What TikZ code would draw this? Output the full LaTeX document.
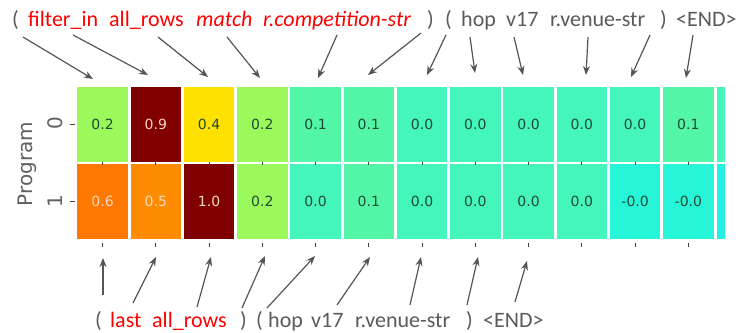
\documentclass[tikz,border=0pt]{standalone}
\usepackage{fontspec}
\setmainfont{Carlito}
\newfontfamily\dejavu{DejaVu Sans}
\usetikzlibrary{arrows.meta}
\definecolor{tokgray}{HTML}{5A5A5A}
\definecolor{kwred}{HTML}{FF0000}
\definecolor{arrgray}{HTML}{555555}
\definecolor{axgray}{HTML}{606060}
\definecolor{numdark}{HTML}{1F4A35}
\definecolor{numlight}{HTML}{F5D8C0}
\definecolor{cA}{HTML}{9BF95B}
\definecolor{cB}{HTML}{800000}
\definecolor{cC}{HTML}{FFE100}
\definecolor{cD}{HTML}{52F6A6}
\definecolor{cE}{HTML}{44F5BC}
\definecolor{cF}{HTML}{27F5D8}
\definecolor{cG}{HTML}{FF7800}
\definecolor{cH}{HTML}{FF8C00}
\definecolor{cI}{HTML}{23EFE2}
\begin{document}
\begin{tikzpicture}[x=1pt,y=-1pt,
  tok/.style={anchor=base west, inner sep=0pt, text=tokgray, font=\fontsize{22}{24}\selectfont},
  kw/.style={tok, text=kwred},
  kwi/.style={tok, text=kwred, font=\fontsize{22}{24}\selectfont\itshape},
  cell/.style={draw=white, line width=2.6pt, minimum width=53.25pt, minimum height=77.5pt, inner sep=0pt, font=\dejavu\fontsize{14}{14}\selectfont, text=numdark},
  dk/.style={text=numlight},
  arr/.style={draw=arrgray, line width=1.2pt, -{Stealth[length=9pt,width=7pt]}},
  tick/.style={draw=black!75, line width=0.8pt},
  axlab/.style={text=axgray, inner sep=0pt, font=\dejavu\fontsize{20}{20}\selectfont, rotate=90}
]
\useasboundingbox[fill=white] (0,0) rectangle (738,332);

% ---- heatmap cells ----
\foreach \i/\c/\v/\s in {0/cA/0.2/, 1/cB/0.9/dk, 2/cC/0.4/, 3/cA/0.2/, 4/cD/0.1/, 5/cD/0.1/, 6/cE/0.0/, 7/cE/0.0/, 8/cE/0.0/, 9/cE/0.0/, 10/cE/0.0/, 11/cD/0.1/}
  \node[cell, fill=\c, \s] (r0c\i) at ({102.6+53.25*\i},124.25) {\v};
\foreach \i/\c/\v/\s in {0/cG/0.6/dk, 1/cH/0.5/dk, 2/cB/1.0/dk, 3/cA/0.2/, 4/cE/0.0/, 5/cD/0.1/, 6/cE/0.0/, 7/cE/0.0/, 8/cE/0.0/, 9/cE/0.0/, 10/cF/-0.0/, 11/cF/-0.0/}
  \node[cell, fill=\c, \s] (r1c\i) at ({102.6+53.25*\i},201.75) {\v};
% partial last column
\fill[cE] (716.6,86.8) rectangle (725,161.7);
\fill[cI] (716.6,164.3) rectangle (725,239.2);

% ---- ticks ----
\foreach \i in {0,...,11} {
  \draw[tick] ({102.6+53.25*\i},242.5) -- ++(0,4.5);
  \draw[tick] ({102.6+53.25*\i},161.5) -- ++(0,3);
}
\draw[tick] (70,124.25) -- (74.5,124.25);
\draw[tick] (70,201.75) -- (74.5,201.75);

% ---- axis labels ----
\node[axlab] (y0) at (55,123.5) {0};
\node[axlab] (y1) at (55,201) {1};
\node[axlab] (ylab) at (27,164) {Program};

% ---- top tokens ----
\node[tok] (t1) at (12,26) {(};
\node[kw]  (t2) at (28,26) {filter\_in};
\node[kw]  (t3) at (109,26) {all\_rows};
\node[kwi] (t4) at (196,26) {match};
\node[kwi] (t5) at (263,26) {r.competition-str};
\node[tok] (t6) at (427,26) {)};
\node[tok] (t7) at (445,26) {(};
\node[tok] (t8) at (461,26) {hop};
\node[tok] (t9) at (506,26) {v17};
\node[tok] (t10) at (550,26) {r.venue-str};
\node[tok] (t11) at (660,26) {)};
\node[tok] (t12) at (676,26) {<END>};

% ---- bottom tokens ----
\node[tok] (b1) at (95,327) {(};
\node[kw]  (b2) at (110,327) {last};
\node[kw]  (b3) at (152,327) {all\_rows};
\node[tok] (b4) at (240,327) {)};
\node[tok] (b5) at (256,327) {(};
\node[tok] (b6) at (268,327) {hop};
\node[tok] (b7) at (311,327) {v17};
\node[tok] (b8) at (355,327) {r.venue-str};
\node[tok] (b9) at (466,327) {)};
\node[tok] (b10) at (483,327) {<END>};

% ---- top arrows ----
\foreach \n/\sx/\sy/\ex/\ey in {1/23/37/93/79, 2/73/35/148/75, 3/158/37/208/77, 4/227/37/260/78,
  5/337/35/318/78, 6/421/33/368/75, 7/446/35/427/75, 8/470/37/475/73, 9/514/37/523/75,
  10/588/37/586/75, 11/650/35/631/77, 12/693/35/686/78} {
  \coordinate (ts\n) at (\sx,\sy);
  \coordinate (te\n) at (\ex,\ey);
  \draw[arr] (ts\n) -- (te\n);
}
% ---- bottom arrows ----
\foreach \n/\sx/\sy/\ex/\ey in {1/103/295/103/258, 2/133/303/156/257, 3/197/307/211/257,
  4/242/308/265/256, 5/267/308/315/256, 6/337/305/370/257, 7/410/305/421/257,
  8/467/305/478/257, 9/515/302/527/261} {
  \coordinate (bs\n) at (\sx,\sy);
  \coordinate (be\n) at (\ex,\ey);
  \draw[arr] (bs\n) -- (be\n);
}
\end{tikzpicture}
\end{document}
